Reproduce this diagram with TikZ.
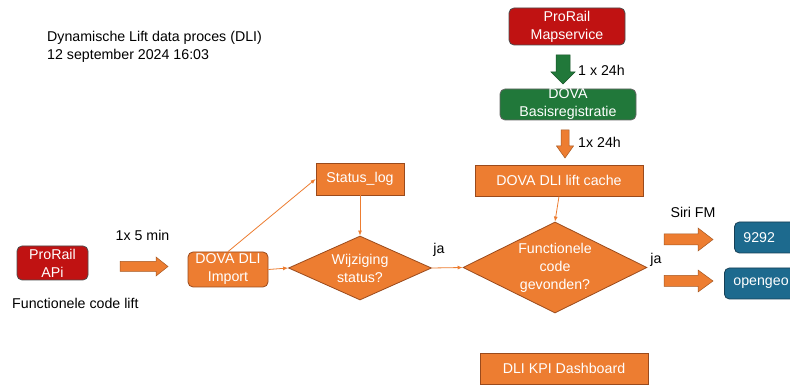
\documentclass[tikz,border=0pt]{standalone}
\usepackage{fontspec}
\setmainfont{Liberation Sans}
\usetikzlibrary{shapes.geometric,arrows.meta}
\definecolor{orng}{HTML}{ED7D31}
\definecolor{orngdk}{HTML}{9A4A1C}
\definecolor{rd}{HTML}{C01212}
\definecolor{grn}{HTML}{21783A}
\definecolor{blu}{HTML}{1D6A8E}
\definecolor{bludk}{HTML}{163F55}
\begin{document}
\begin{tikzpicture}[x=1pt,y=-1pt,
  every node/.style={font=\fontsize{14.2}{18}\selectfont},
  box/.style={draw=#1, line width=0.8pt, text=white, align=center, inner sep=0pt},
  obox/.style={box=orngdk, fill=orng},
  rbox/.style={box=black!70, fill=rd, rounded corners=5pt},
  gbox/.style={box=black!60, fill=grn, rounded corners=5pt},
  bbox/.style={box=bludk, fill=blu, rounded corners=5pt, anchor=west, text width=78pt, align=left, inner xsep=9pt},
  dia/.style={diamond, aspect=2, draw=orngdk, fill=orng, text=white, align=center, inner sep=0pt, line width=0.8pt},
  conn/.style={draw=orng, line width=0.8pt, -{Latex[length=5pt,width=4pt]}},
  barrow/.style={fill=#1, draw=#1!70!black, line width=0.5pt},
  lbl/.style={text=black, inner sep=0pt}
]
\useasboundingbox (0,0) rectangle (790,387);
\clip (0,0) rectangle (790,387);
\fill[white] (0,0) rectangle (790,387);

% title
\node[lbl, anchor=west, align=left] (title) at (47,47) {Dynamische Lift data proces (DLI)\\12 september 2024 16:03};

% top chain
\node[rbox, minimum width=116pt, minimum height=37pt] (map) at (567,26.5) {ProRail\\Mapservice};
\fill[barrow=grn] (556,55) -- (570,55) -- (570,72) -- (575,72) -- (563,84) -- (551,72) -- (556,72) -- cycle;
\node[lbl, anchor=west] (l24a) at (578,70) {1 x 24h};
\node[gbox, minimum width=136pt, minimum height=31pt] (basis) at (568,104.5) {DOVA\\Basisregistratie};
\fill[barrow=orng] (561,130) -- (569,130) -- (569,146) -- (573.5,146) -- (565,158) -- (556.5,146) -- (561,146) -- cycle;
\node[lbl, anchor=west] (l24b) at (578,142) {1x 24h};
\node[obox, minimum width=168pt, minimum height=31pt] (cache) at (559,180.5) {DOVA DLI lift cache};

% left part
\node[rbox, minimum width=71pt, minimum height=34pt] (api) at (52.5,263) {ProRail\\APi};
\node[lbl, anchor=west] (fcl) at (12,303) {Functionele code lift};
\node[lbl] (l5) at (142.5,235) {1x 5 min};
\fill[barrow=orng] (120,261.5) -- (156,261.5) -- (156,257) -- (168,266.5) -- (156,276) -- (156,271.5) -- (120,271.5) -- cycle;
\node[obox, rounded corners=5pt, minimum width=80pt, minimum height=35pt] (import) at (228,269.5) {DOVA DLI\\Import};
\node[obox, minimum width=88pt, minimum height=32pt] (slog) at (360,179) {Status\_log};
\node[dia, minimum width=143pt, minimum height=64pt] (wijz) at (360,268) {Wijziging\\status?};
\node[dia, minimum width=184pt, minimum height=91pt] (func) at (555,267.5) {Functionele\\code\\gevonden?};
\node[lbl] (ja1) at (439,250) {ja};
\node[lbl] (ja2) at (656,260) {ja};

% connectors
\draw[conn] (import.north) -- (slog.west);
\draw[conn] (slog.south) -- (wijz.north);
\draw[conn] (import.east) -- (wijz.west);
\draw[conn] (wijz.east) -- (func.west);
\draw[conn] (cache.south) -- (func.north);

% outputs
\node[lbl] (siri) at (693,212) {Siri FM};
\fill[barrow=orng] (664,234) -- (698,234) -- (698,228) -- (713,239.5) -- (698,251) -- (698,245) -- (664,245) -- cycle;
\fill[barrow=orng] (664,275.5) -- (698,275.5) -- (698,270) -- (713,281) -- (698,292) -- (698,286.5) -- (664,286.5) -- cycle;
\node[bbox, minimum height=31pt] (n9292) at (734,237.5) {9292};
\node[bbox, minimum height=31pt] (ogeo) at (724,283.5) {opengeo};

\node[obox, minimum width=168pt, minimum height=31pt] (kpi) at (564,368.5) {DLI KPI Dashboard};
\end{tikzpicture}
\end{document}
